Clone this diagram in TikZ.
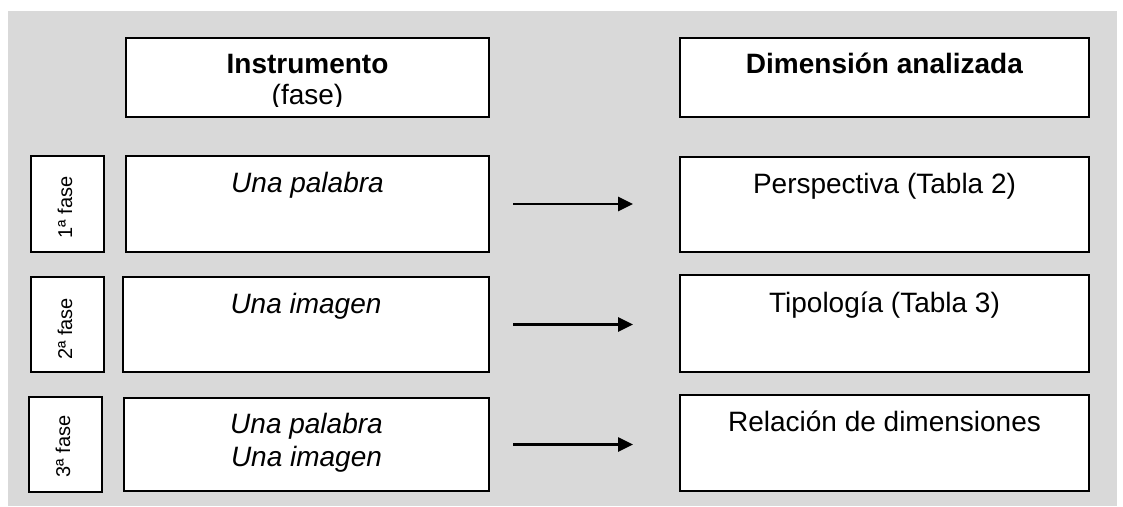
\documentclass[tikz,border=0pt]{standalone}
\usepackage{fontspec}
\setmainfont{Liberation Sans}
\usetikzlibrary{arrows.meta}
\definecolor{panel}{RGB}{217,217,217}
\begin{document}
\begin{tikzpicture}[x=1pt,y=-1pt,
  box/.style={draw=black, fill=white, line width=2pt, inner sep=0pt, outer sep=0pt},
  headbox/.style={box, line width=2.6pt},
  main/.style={font=\fontsize{28}{33}\selectfont, inner sep=0pt, outer sep=0pt},
  phase/.style={font=\fontsize{20}{24}\selectfont, inner sep=0pt, rotate=90, anchor=base},
  flow/.style={line width=2.6pt, -{Triangle[length=15pt,width=14pt]},
               shorten <=24pt, shorten >=47pt}]
\useasboundingbox (0,0) rectangle (1123,506);
\fill[panel] (8,11) rectangle (1117,506);

% column headings
\node[headbox, minimum width=363pt, minimum height=79pt] (h1) at (307.5,77.5) {};
\node[headbox, minimum width=409pt, minimum height=79pt] (h2) at (884.5,77.5) {};
\node[main, anchor=base] (h1a) at ([yshift=-35pt]h1.north) {\textbf{Instrumento}};
\begin{scope}
  \clip (126,38) rectangle (489,106.5);
  \node[main, anchor=base] (h1b) at ([yshift=-66.5pt]h1.north) {(fase)};
\end{scope}
\node[main, anchor=base] (h2a) at ([yshift=-35pt]h2.north) {\textbf{Dimensión analizada}};

% phase labels
\node[box, minimum width=73pt, minimum height=96pt] (s1) at (67.5,204) {};
\node[box, minimum width=73pt, minimum height=95pt] (s2) at (67.5,324.5) {};
\node[box, minimum width=73pt, minimum height=95pt] (s3) at (65.5,444.5) {};
\node[phase] (s1t) at ([xshift=4.5pt,yshift=-3.5pt]s1.center) {1ª fase};
\node[phase] (s2t) at ([xshift=4.5pt,yshift=-4.5pt]s2.center) {2ª fase};
\node[phase] (s3t) at ([xshift=4.5pt,yshift=-2pt]s3.center) {3ª fase};

% instruments
\node[box, minimum width=363pt, minimum height=96pt] (l1) at (307.5,204) {};
\node[box, minimum width=366pt, minimum height=95pt] (l2) at (306,324.5) {};
\node[box, minimum width=365pt, minimum height=93pt] (l3) at (306.5,444.5) {};
\node[main, anchor=base] (l1t) at ([yshift=-36pt]l1.north) {\itshape Una palabra};
\node[main, anchor=base] (l2t) at ([yshift=-36pt]l2.north) {\itshape Una imagen};
\node[main, anchor=north, align=center, font=\fontsize{28}{33}\selectfont\itshape]
  (l3t) at ([yshift=-15pt]l3.north) {Una palabra\\Una imagen};

% analysed dimensions
\node[box, minimum width=409pt, minimum height=95pt] (r1) at (884.5,204.5) {};
\node[box, minimum width=409pt, minimum height=97pt] (r2) at (884.5,323.5) {};
\node[box, minimum width=409pt, minimum height=96pt] (r3) at (884.5,443) {};
\node[main, anchor=base] (r1t) at ([yshift=-36pt]r1.north) {Perspectiva (Tabla 2)};
\node[main, anchor=base] (r2t) at ([yshift=-37pt]r2.north) {Tipología (Tabla 3)};
\node[main, anchor=base] (r3t) at ([yshift=-36pt]r3.north) {Relación de dimensiones};

% connectors
\draw[flow] (l1.east) -- (l1.east -| r1.west);
\draw[flow] (l2.east) -- (l2.east -| r2.west);
\draw[flow] (l3.east) -- (l3.east -| r3.west);
\end{tikzpicture}
\end{document}
